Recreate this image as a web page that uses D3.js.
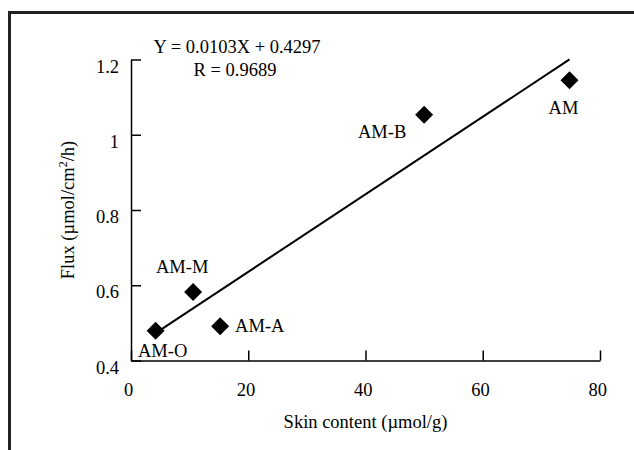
<!DOCTYPE html>
<html>
<head>
<meta charset="utf-8">
<script src="https://cdn.jsdelivr.net/npm/d3@7"></script>
<style>
    body { margin: 0; background: #fff; }
    svg text { font-family: "Liberation Serif", "Times New Roman", serif; font-size: 18.5px; fill: #000; }
    .axis path, .axis line { stroke: #000; stroke-width: 1.5px; }
</style>
</head>
<body>
<div id="chart"></div>
<script>
// samples
const names = ['AM-O', 'AM-M', 'AM-A', 'AM-B', 'AM']
const skinContent = [4.2, 10.6, 15.2, 50.0, 74.8]
const flux = [0.479, 0.582, 0.491, 1.053, 1.145]
const xTicks = [0, 20, 40, 60, 80]
const yTicks = [0.4, 0.6, 0.8, 1, 1.2]
const slope = 0.0103
const intercept = 0.4297
const rValue = 0.9689

const width = 634
const height = 450
const layout = { left: 131, right: 34, top: 59.5, bottom: 89.5 }
const w = width - layout.left - layout.right
const h = height - layout.top - layout.bottom

// label placement relative to each marker (dx, dy, anchor)
const labelPos = {
    'AM-O': [7, 26, 'middle'],
    'AM-M': [-11, -19, 'middle'],
    'AM-A': [15, 6, 'start'],
    'AM-B': [-42, 23, 'middle'],
    'AM': [-6, 34, 'middle']
}

const svg = d3.select('#chart').append('svg')
    .attr('width', width)
    .attr('height', height)

// frame (figure is cropped, only top and left edges remain)
svg.append('path')
    .attr('d', `M 9.5 ${height} V 12.5 H ${width}`)
    .attr('fill', 'none')
    .attr('stroke', '#222')
    .attr('stroke-width', 3)

const g = svg.append('g')
    .attr('transform', 'translate(' + layout.left + ',' + layout.top + ')')

const xScale = d3.scaleLinear().domain([0, 80]).range([0, w])
const yScale = d3.scaleLinear().domain([0.4, 1.2]).range([h, 0])

const xAxisEl = g.append('g')
    .attr('class', 'axis')
    .attr('transform', 'translate(0,' + h + ')')
    .call(d3.axisBottom(xScale).tickValues(xTicks).tickSizeInner(-10).tickSizeOuter(0).tickPadding(22).tickFormat(d3.format('d')))
xAxisEl.selectAll('text').attr('dx', '-0.15em')

const yAxisEl = g.append('g')
    .attr('class', 'axis')
    .call(d3.axisLeft(yScale).tickValues(yTicks).tickSizeInner(-10).tickSizeOuter(0).tickPadding(12).tickFormat(d => String(d)))
yAxisEl.selectAll('text').attr('dy', '0.68em')
g.selectAll('.axis').attr('font-family', null).attr('font-size', null)

g.append('text')
    .attr('x', w / 2)
    .attr('y', h + 67)
    .attr('text-anchor', 'middle')
    .text('Skin content (\u00b5mol/g)')

const yLabel = g.append('text')
    .attr('transform', 'rotate(-90)')
    .attr('x', -h / 2)
    .attr('y', -57)
    .attr('text-anchor', 'middle')
yLabel.append('tspan').text('Flux (\u00b5mol/cm')
yLabel.append('tspan').attr('font-size', '12px').attr('dy', -7).text('2')
yLabel.append('tspan').attr('dy', 7).text('/h)')

// regression line
const xs = d3.extent(skinContent)
g.append('line')
    .attr('x1', xScale(xs[0]))
    .attr('y1', yScale(slope * xs[0] + intercept))
    .attr('x2', xScale(xs[1]))
    .attr('y2', yScale(slope * xs[1] + intercept))
    .attr('stroke', '#000')
    .attr('stroke-width', 2)

const pts = names.map((n, i) => ({ name: n, x: skinContent[i], y: flux[i] }))

g.selectAll('.pt')
    .data(pts)
    .enter()
    .append('path')
    .attr('class', 'pt')
    .attr('d', d3.symbol().type(d3.symbolSquare).size(162))
    .attr('transform', d => `translate(${xScale(d.x)},${yScale(d.y)}) rotate(45)`)
    .attr('fill', '#000')

g.selectAll('.pt-label')
    .data(pts)
    .enter()
    .append('text')
    .attr('class', 'pt-label')
    .attr('x', d => xScale(d.x) + labelPos[d.name][0])
    .attr('y', d => yScale(d.y) + labelPos[d.name][1])
    .attr('text-anchor', d => labelPos[d.name][2])
    .text(d => d.name)

g.append('text')
    .attr('x', 106)
    .attr('y', -6.5)
    .attr('text-anchor', 'middle')
    .text(`Y = ${slope}X + ${intercept}`)
g.append('text')
    .attr('x', 104)
    .attr('y', 16.5)
    .attr('text-anchor', 'middle')
    .text(`R = ${rValue}`)
</script>
</body>
</html>
